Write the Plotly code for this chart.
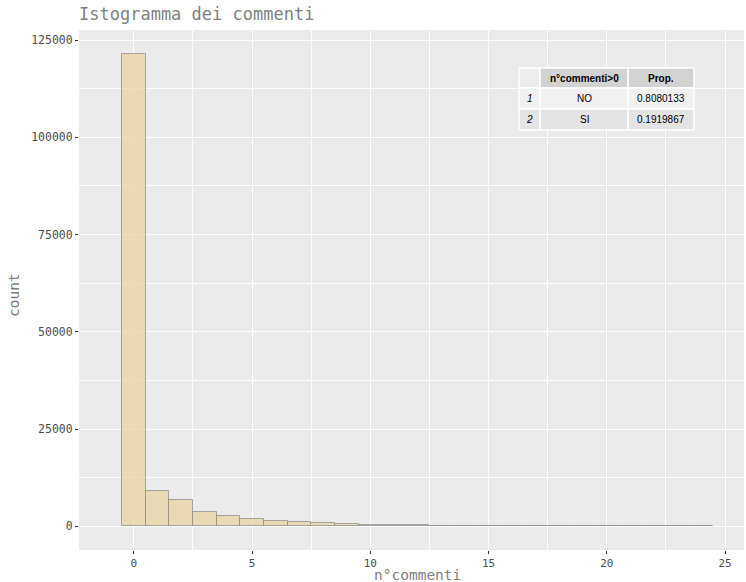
import plotly.graph_objects as go

# Histogram of comment counts per item (bins of width 1)
n_commenti = list(range(25))
counts = [121300, 9150, 6840, 3680, 2570, 1800, 1290, 1030, 770, 510,
          390, 300, 240, 190, 150, 120, 100, 85, 70, 60,
          50, 45, 40, 35, 30]

# Summary table: share of items with at least one comment
table_header = ["", "n°commenti>0", "Prop."]
row_ids = ["1", "2"]
has_comments = ["NO", "SI"]
proportions = ["0.8080133", "0.1919867"]

MONO = "DejaVu Sans Mono"
W, H = 746, 582
ML, MR, MT, MB = 79, 2, 30, 32
PW, PH = W - ML - MR, H - MT - MB


def px_x(px):
    return (px - ML) / PW


def px_y(py):
    return 1 - (py - MT) / PH


fig = go.Figure()

fig.add_trace(go.Bar(
    x=n_commenti,
    y=counts,
    width=1,
    marker=dict(color="rgba(232,210,160,0.72)",
                line=dict(color="rgba(140,140,140,0.75)", width=1)),
    showlegend=False,
    hoverinfo="x+y",
))

# Table drawn as a grid of cells in the top-right corner of the panel
col_edges = [519, 540, 628, 694]
row_edges = [68, 88, 109, 130]
header_fill = ["#EDEDED", "#D2D2D2", "#D2D2D2"]
body_fill = ["#F1F1F1", "#E4E4E4"]
body_cols = [["<i>" + r + "</i>" for r in row_ids], has_comments, proportions]

shapes = []
annotations = []
for r in range(3):
    for c in range(3):
        fill = header_fill[c] if r == 0 else body_fill[r - 1]
        shapes.append(dict(
            type="rect", xref="paper", yref="paper", layer="above",
            x0=px_x(col_edges[c]), x1=px_x(col_edges[c + 1]),
            y0=px_y(row_edges[r + 1]), y1=px_y(row_edges[r]),
            fillcolor=fill, line=dict(color="white", width=1.5),
        ))
        if r == 0:
            txt = "<b>" + table_header[c] + "</b>" if table_header[c] else ""
        else:
            txt = body_cols[c][r - 1]
        if txt:
            annotations.append(dict(
                text=txt, xref="paper", yref="paper", showarrow=False,
                x=px_x((col_edges[c] + col_edges[c + 1]) / 2),
                y=px_y((row_edges[r] + row_edges[r + 1]) / 2),
                xanchor="center", yanchor="middle",
                font=dict(family="Liberation Sans", size=10, color="black"),
            ))

# Axis titles
annotations.append(dict(
    text="n°commenti", xref="paper", yref="paper", showarrow=False,
    x=px_x(417), y=px_y(575), xanchor="center", yanchor="middle",
    font=dict(family=MONO, size=14.5, color="#7F7F7F"),
))
annotations.append(dict(
    text="count", xref="paper", yref="paper", showarrow=False, textangle=-90,
    x=px_x(14), y=px_y(295), xanchor="center", yanchor="middle",
    font=dict(family=MONO, size=14.5, color="#7F7F7F"),
))

axis_common = dict(
    showline=False,
    zeroline=False,
    gridcolor="white",
    gridwidth=1.2,
    ticks="outside",
    ticklen=3,
    tickcolor="#333333",
)

fig.update_xaxes(
    range=[-2.32, 25.8],
    tickvals=[0, 5, 10, 15, 20, 25],
    tickfont=dict(family=MONO, size=11, color="#4D4D4D"),
    minor=dict(tickvals=[2.5, 7.5, 12.5, 17.5, 22.5], showgrid=True,
               gridcolor="white", gridwidth=0.6, ticks=""),
    **axis_common,
)
fig.update_yaxes(
    range=[-6092, 127570],
    tickvals=[0, 25000, 50000, 75000, 100000, 125000],
    ticktext=["0", "25000", "50000", "75000", "100000", "125000"],
    tickfont=dict(family=MONO, size=11.5, color="#4D4D4D"),
    minor=dict(tickvals=[12500, 37500, 62500, 87500, 112500], showgrid=True,
               gridcolor="white", gridwidth=0.6, ticks=""),
    **axis_common,
)

fig.update_layout(
    width=W,
    height=H,
    margin=dict(l=ML, r=MR, t=MT, b=MB),
    paper_bgcolor="white",
    plot_bgcolor="#EBEBEB",
    bargap=0,
    shapes=shapes,
    annotations=annotations,
    title=dict(text="Istogramma dei commenti", x=79 / W, xanchor="left",
               y=1 - 14 / H, yanchor="middle",
               font=dict(family=MONO, size=17, color="#7F7F7F")),
)

fig.write_html("out.html")
